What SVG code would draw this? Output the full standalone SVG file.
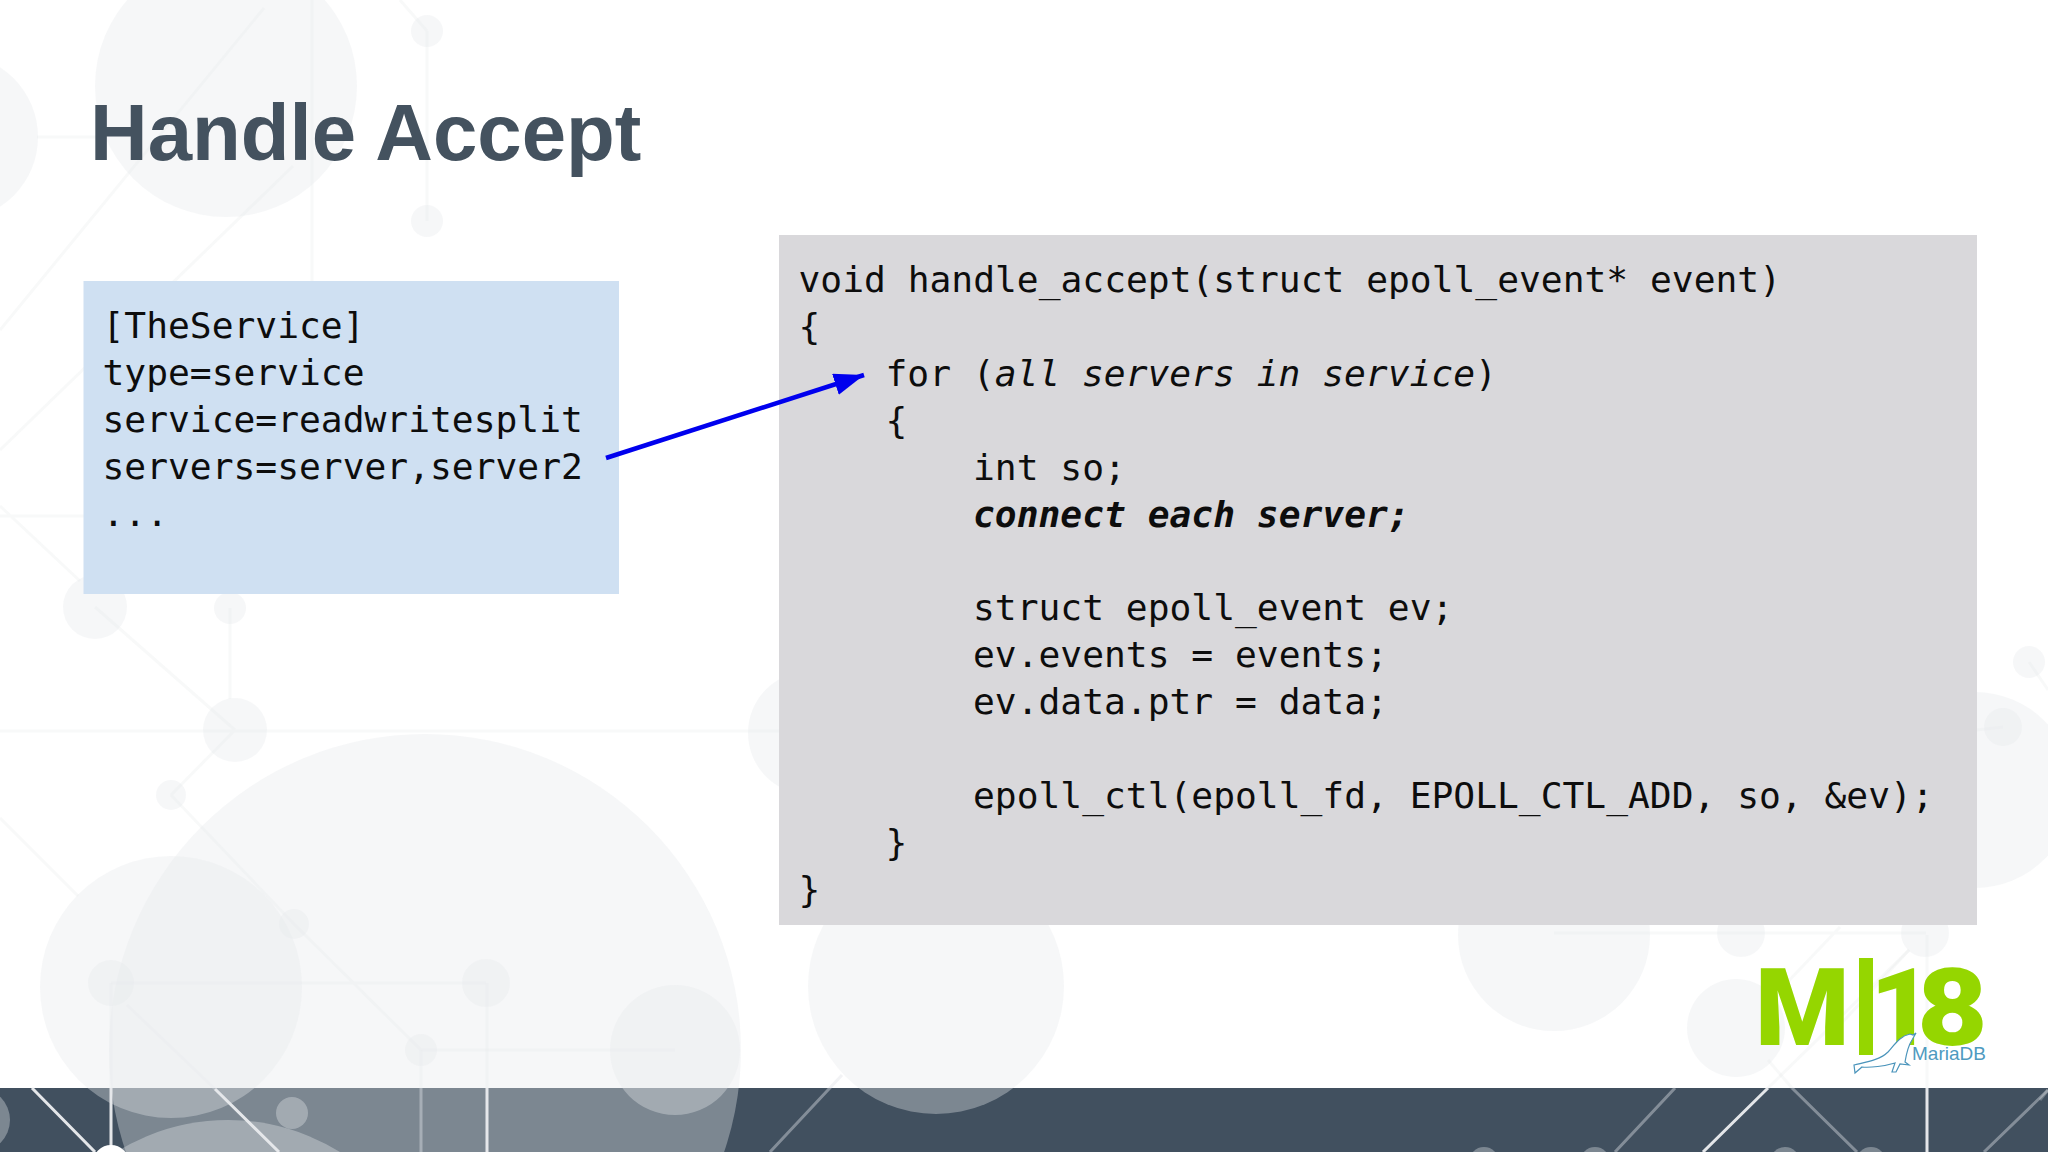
<svg xmlns="http://www.w3.org/2000/svg" width="2048" height="1152" viewBox="0 0 2048 1152">
<style>
.c{fill:#e6e8ec;fill-opacity:.36}
.l{stroke:#e4e6e9;stroke-opacity:.26;stroke-width:3;fill:none}
.w{stroke:#f2f3f5;stroke-opacity:.92;stroke-width:3;fill:none}
.d{stroke:#dfe2e6;stroke-opacity:.42;stroke-width:3;fill:none}
.code{font-family:"DejaVu Sans Mono","Liberation Mono",monospace;font-size:36.27px;fill:#0d0d0d;white-space:pre}
.g{font-family:Roboto,"Liberation Sans",Arial,sans-serif;font-weight:900;fill:#95d600}
</style>
<defs>
<marker id="ah" markerUnits="userSpaceOnUse" markerWidth="34" markerHeight="24" refX="30" refY="11" orient="auto">
<path d="M0 0L30 11L0 22Z" fill="#0000ee"/>
</marker>
</defs>
<rect width="2048" height="1152" fill="#ffffff"/>
<rect y="1088" width="2048" height="64" fill="#41505f"/>
<g id="background">
<path class="l" d="M427 31L400 0M427 31V221M312 0V281M264 8L0 330M293 166L0 450M37 137H100M0 516H84M0 506L80 581"/>
<path class="l" d="M95 607L235 730M230 608V699M235 730L171 795M171 795L294 924M294 924L421 1050M0 731H780M0 818L78 896M111 983H486M421 1050H675M127 1005L215 1089"/>
<path class="l" d="M1554 933H1926M2029 662L2048 690M2003 727L1977 730M1840 927L1780 990M1909 950L1840 1025M1768 1060L1792 1088M2048 1090L2040 1100"/>
<path class="w" d="M32 1088L95 1152M215 1089L279 1152M111 1088V1152M487 1088V1152M1768 1088L1703 1152M1927 1088V1152"/>
<path class="d" d="M421 1088V1152M842 1075L770 1152M1675 1088L1615 1152M1792 1088L1857 1152M2048 1090L1984 1152"/>
<path class="l" d="M111 983V1088M487 983V1088M421 1050V1088M1927 935V1088M1768 1088L1909 950"/>
<circle class="c" cx="226" cy="86" r="131"/>
<circle class="c" cx="-45" cy="137" r="83"/>
<circle class="c" cx="427" cy="31" r="16"/>
<circle class="c" cx="427" cy="221" r="16"/>
<circle class="c" cx="95" cy="607" r="32"/>
<circle class="c" cx="230" cy="608" r="16"/>
<circle class="c" cx="235" cy="730" r="32"/>
<circle class="c" cx="171" cy="795" r="15"/>
<circle class="c" cx="294" cy="924" r="15"/>
<circle class="c" cx="425" cy="1050" r="316"/>
<circle class="c" cx="171" cy="987" r="131"/>
<circle class="c" cx="111" cy="983" r="23"/>
<circle class="c" cx="486" cy="983" r="24"/>
<circle class="c" cx="421" cy="1050" r="16"/>
<circle class="c" cx="675" cy="1050" r="65"/>
<circle class="c" cx="292" cy="1113" r="16"/>
<circle class="c" cx="228" cy="1332" r="212"/>
<circle class="c" cx="-22" cy="1120" r="32"/>
<circle cx="111" cy="1163" r="18" fill="#ffffff"/>
<circle class="c" cx="936" cy="986" r="128"/>
<circle class="c" cx="810" cy="733" r="62"/>
<circle class="c" cx="1975" cy="790" r="98"/>
<circle class="c" cx="2003" cy="727" r="19"/>
<circle class="c" cx="2029" cy="662" r="16"/>
<circle class="c" cx="1554" cy="935" r="96"/>
<circle class="c" cx="1741" cy="933" r="24"/>
<circle class="c" cx="1925" cy="933" r="24"/>
<circle class="c" cx="1736" cy="1028" r="49"/>
<circle class="c" cx="1484" cy="1162" r="15"/>
<circle class="c" cx="1595" cy="1162" r="15"/>
<circle class="c" cx="1785" cy="1162" r="15"/>
<circle class="c" cx="1871" cy="1162" r="15"/>
</g>
<text id="title" x="90" y="160" font-family="'Liberation Sans',Arial,sans-serif" font-weight="700" font-size="79.8" fill="#44525f">Handle Accept</text>
<g id="config-box">
<rect x="83.5" y="281" width="535.5" height="313" fill="#cfe0f2"/>
<text class="code" x="102.5" y="338">[TheService]</text>
<text class="code" x="102.5" y="385">type=service</text>
<text class="code" x="102.5" y="432">service=readwritesplit</text>
<text class="code" x="102.5" y="479">servers=server,server2</text>
<text class="code" x="102.5" y="526">...</text>
</g>
<g id="code-box">
<rect x="779" y="235" width="1198" height="690" fill="#d9d8db"/>
<text class="code" x="798.5" y="291.5">void handle_accept(struct epoll_event* event)</text>
<text class="code" x="798.5" y="338.5">{</text>
<text class="code" x="885.5" y="385.5">for (<tspan font-style="italic">all servers in service</tspan>)</text>
<text class="code" x="885.5" y="432.5">{</text>
<text class="code" x="973" y="479.5">int so;</text>
<text class="code" x="973" y="526.5" font-style="italic" font-weight="700">connect each server;</text>
<text class="code" x="973" y="620">struct epoll_event ev;</text>
<text class="code" x="973" y="667">ev.events = events;</text>
<text class="code" x="973" y="714">ev.data.ptr = data;</text>
<text class="code" x="973" y="808">epoll_ctl(epoll_fd, EPOLL_CTL_ADD, so, &amp;ev);</text>
<text class="code" x="885.5" y="855">}</text>
<text class="code" x="798.5" y="902">}</text>
</g>
<g id="connectors">
<line x1="606" y1="458" x2="864" y2="375" stroke="#0000ee" stroke-width="4.5" marker-end="url(#ah)"/>
</g>
<g id="logo">
<text class="g" x="1755" y="1045" font-size="108">M</text>
<rect x="1859" y="958" width="14" height="97" fill="#95d600"/>
<text class="g" x="1870" y="1045" font-size="108">1</text>
<text class="g" transform="translate(1917 1045) scale(1.13 1)" font-size="108">8</text>
<path d="M1854 1065C1866 1062 1880 1060 1888 1052C1895 1044 1900 1036 1910 1034L1913 1035L1916 1033L1912 1040C1908 1046 1906 1056 1905 1062L1909 1065L1900 1064L1896 1072L1892 1072L1895 1063C1885 1066 1870 1068 1862 1067L1855 1073Z" fill="#ffffff" stroke="#4a94bb" stroke-width="1.2"/>
<text x="1912" y="1060" font-family="'Liberation Sans',Arial,sans-serif" font-size="19" fill="#4e9ac0">MariaDB</text>
</g>
</svg>
